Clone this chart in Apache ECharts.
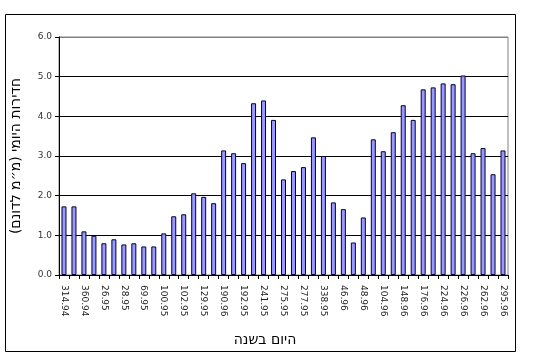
<!DOCTYPE html>
<html>
<head>
<meta charset="utf-8">
<script src="https://cdn.jsdelivr.net/npm/echarts@6/dist/echarts.min.js"></script>
<style>html,body{margin:0;padding:0;background:#fff;}#c{width:533px;height:362px;}</style>
</head>
<body>
<div id="c"></div>
<script>
// Category names: only every other label is printed on the axis; unprinted ones left blank.
var categories = [
  '314.94','', '360.94','', '26.95','', '28.95','', '69.95','', '100.95','',
  '102.95','', '129.95','', '190.96','', '192.95','', '241.95','', '275.95','',
  '277.95','', '338.95','', '46.96','', '48.96','', '104.96','', '148.96','',
  '176.96','', '224.96','', '226.96','', '262.96','', '295.96'
];
var values = [
  1.73, 1.73, 1.10, 0.99, 0.80, 0.90, 0.77, 0.80, 0.72, 0.72, 1.05, 1.48,
  1.53, 2.06, 1.97, 1.81, 3.14, 3.07, 2.82, 4.33, 4.40, 3.91, 2.41, 2.62,
  2.72, 3.47, 3.00, 1.83, 1.66, 0.82, 1.45, 3.42, 3.12, 3.60, 4.28, 3.91,
  4.68, 4.73, 4.83, 4.81, 5.03, 3.07, 3.20, 2.54, 3.14
];
var yTitle = 'חדירות היומי (מ״מ לדונם)';
var xTitle = 'היום בשנה';

var chart = echarts.init(document.getElementById('c'), null, {renderer: 'canvas'});
chart.setOption({
  backgroundColor: '#fff',
  animation: false,
  textStyle: {fontFamily: 'DejaVu Sans'},
  graphic: [{
    type: 'rect', silent: true,
    shape: {x: 5.5, y: 14.5, width: 510, height: 337},
    style: {fill: 'none', stroke: '#000', lineWidth: 1}
  }],
  grid: {left: 59, right: 25, top: 37, bottom: 87, show: true, borderColor: '#808080', borderWidth: 1},
  xAxis: {
    type: 'category',
    data: categories,
    name: xTitle,
    nameLocation: 'middle',
    nameGap: 58,
    nameTextStyle: {fontSize: 14, color: '#000', fontFamily: 'DejaVu Sans', padding: [0, 37, 0, 0]},
    axisLine: {lineStyle: {color: '#000', width: 1}},
    axisTick: {show: true, interval: 0, length: 4, lineStyle: {color: '#000'}},
    axisLabel: {interval: 0, rotate: -90, fontSize: 9, color: '#222', margin: 10, fontFamily: 'DejaVu Sans'},
    splitLine: {show: false}
  },
  yAxis: {
    type: 'value',
    min: 0, max: 6, interval: 1,
    name: yTitle,
    nameLocation: 'middle',
    nameGap: 36,
    nameTextStyle: {fontSize: 14, color: '#000', fontFamily: 'DejaVu Sans'},
    axisLine: {show: true, lineStyle: {color: '#000', width: 1}},
    axisTick: {show: true, length: 4, lineStyle: {color: '#000'}},
    axisLabel: {fontSize: 9, color: '#333', margin: 7, formatter: function(v){return v.toFixed(1);}},
    splitLine: {show: true, lineStyle: {color: ['#000','#000','#000','#000','#000','#000','#808080'], width: 1}}
  },
  series: [{
    type: 'bar',
    data: values,
    barWidth: 5,
    itemStyle: {color: '#9999ff', borderColor: '#000033', borderWidth: 1}
  }]
});
</script>
</body>
</html>
